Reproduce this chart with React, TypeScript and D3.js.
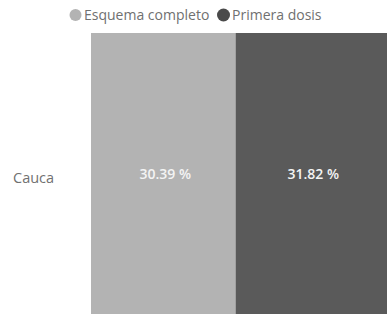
import React from "react";
import * as d3 from "d3";

const categories = ["Cauca"];
const seriesNames = ["Esquema completo", "Primera dosis"];
const esquemaCompleto = [30.39];
const primeraDosis = [31.82];
const seriesColors = ["#b3b3b3", "#5a5a5a"];

const W = 388;
const H = 314;

export default function App() {
  const margin = { left: 91, right: 1, top: 33, bottom: -14 };
  const totals = categories.map((_, i) => esquemaCompleto[i] + primeraDosis[i]);
  const x = d3
    .scaleLinear()
    .domain([0, d3.max(totals) as number])
    .range([margin.left, W - margin.right]);
  const y = d3
    .scaleBand()
    .domain(categories)
    .range([margin.top, H - margin.bottom])
    .paddingInner(0)
    .paddingOuter(0);

  const stackData = categories.map((c, i) => ({
    cat: c,
    "Esquema completo": esquemaCompleto[i],
    "Primera dosis": primeraDosis[i],
  }));
  const stacked = d3.stack<any>().keys(seriesNames)(stackData);
  const font = "'Open Sans', 'DejaVu Sans', sans-serif";

  return (
    <svg
      width={W}
      height={H}
      style={{ position: "absolute", left: 0, top: 0, background: "#fff" }}
    >
      {/* legend */}
      <g fontFamily={font} fontSize={14} fill="#707070">
        <circle cx={75.5} cy={15} r={6} fill={seriesColors[0]} />
        <text x={84} y={20}>{seriesNames[0]}</text>
        <circle cx={223.5} cy={15} r={6.5} fill="#4a4a4a" />
        <text x={232} y={20}>{seriesNames[1]}</text>
      </g>
      {stacked.map((layer, li) => (
        <g key={layer.key} fill={seriesColors[li]}>
          {layer.map((d, di) => (
            <rect
              key={di}
              x={x(d[0])}
              width={x(d[1]) - x(d[0])}
              y={y(categories[di]) as number}
              height={y.bandwidth()}
            />
          ))}
        </g>
      ))}
      {stacked.map((layer) =>
        layer.map((d, di) => (
          <text
            key={layer.key + di}
            x={(x(d[0]) + x(d[1])) / 2 + 2}
            y={(y(categories[di]) as number) + y.bandwidth() / 2 - 5}
            textAnchor="middle"
            dominantBaseline="middle"
            fontFamily={font}
            fontSize={14}
            fontWeight={600}
            fill="#f4f4f4"
          >
            {(d[1] - d[0]).toFixed(2)} %
          </text>
        ))
      )}
      {categories.map((c) => (
        <text
          key={c}
          x={13}
          y={(y(c) as number) + y.bandwidth() / 2 - 1}
          dominantBaseline="middle"
          fontFamily={font}
          fontSize={14.5}
          fill="#707070"
        >
          {c}
        </text>
      ))}
    </svg>
  );
}
